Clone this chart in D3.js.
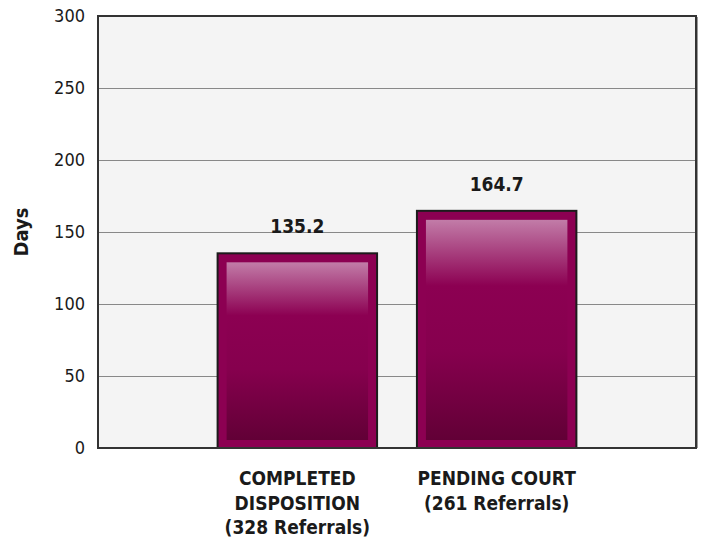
<!DOCTYPE html>
<html>
<head>
  <meta charset="utf-8">
  <title>Days</title>
  <script src="https://cdn.jsdelivr.net/npm/d3@7"></script>
  <style>
    body { margin: 0; background: #fff; }
    svg text { font-family: "DejaVu Sans Condensed", "DejaVu Sans", sans-serif; fill: #1a1a1a; }
  </style>
</head>
<body>
<svg width="703" height="542"></svg>
<script>
  // data
  const categories = [
    ['COMPLETED', 'DISPOSITION', '(328 Referrals)'],
    ['PENDING COURT', '(261 Referrals)']
  ];
  const values = [135.2, 164.7];
  const yTicks = [0, 50, 100, 150, 200, 250, 300];
  const yLabel = 'Days';

  const svg = d3.select('svg');
  const plotL = 98, plotR = 696, plotT = 16, plotB = 448;

  const y = d3.scaleLinear().domain([0, 300]).range([plotB, plotT]);
  // one empty slot either side, bars sit on 1 and 2
  const x = d3.scaleLinear().domain([0, categories.length + 1]).range([plotL, plotR]);
  const barW = (x(1) - x(0)) * 0.8;

  const defs = svg.append('defs');
  const grad = defs.append('linearGradient')
      .attr('id', 'shine').attr('x1', 0).attr('y1', 0).attr('x2', 0).attr('y2', 1);
  grad.append('stop').attr('offset', '0%').attr('stop-color', '#c27ca8');
  grad.append('stop').attr('offset', '30%').attr('stop-color', '#8c0052');
  grad.append('stop').attr('offset', '60%').attr('stop-color', '#86004e');
  grad.append('stop').attr('offset', '100%').attr('stop-color', '#620036');

  // plot background
  svg.append('rect')
      .attr('x', plotL).attr('y', plotT)
      .attr('width', plotR - plotL).attr('height', plotB - plotT)
      .attr('fill', '#f4f4f4');

  // gridlines
  svg.append('g')
      .attr('transform', `translate(${plotL},0)`)
      .call(d3.axisLeft(y).tickValues(yTicks).tickSize(-(plotR - plotL)).tickFormat(''))
      .call(g => g.select('.domain').remove())
      .call(g => g.selectAll('line').attr('stroke', '#888'));

  // tick labels
  svg.append('g')
      .attr('transform', `translate(${plotL},0)`)
      .call(d3.axisLeft(y).tickValues(yTicks).tickSize(0).tickPadding(13))
      .call(g => g.select('.domain').remove())
      .call(g => g.selectAll('text').style('font-size', '18px').attr('fill', '#1a1a1a'));

  const bars = svg.append('g').selectAll('g')
    .data(values)
    .join('g');

  bars.append('rect')
      .attr('x', (d, i) => x(i + 1) - barW / 2)
      .attr('y', d => y(d))
      .attr('width', barW)
      .attr('height', d => y(0) - y(d))
      .attr('fill', '#8c0052')
      .attr('stroke', '#1c1c1c')
      .attr('stroke-width', 2);

  bars.append('rect')
      .attr('x', (d, i) => x(i + 1) - barW / 2 + 9)
      .attr('y', d => y(d) + 9)
      .attr('width', barW - 18)
      .attr('height', d => y(0) - y(d) - 17)
      .attr('fill', 'url(#shine)');

  bars.append('text')
      .attr('x', (d, i) => x(i + 1))
      .attr('y', d => y(d) - 20)
      .attr('text-anchor', 'middle')
      .style('font-size', '19px')
      .style('font-weight', 'bold')
      .text(d => d.toFixed(1));

  // frame, with a soft shadow on the right
  svg.append('line')
      .attr('x1', plotR + 1.5).attr('x2', plotR + 1.5)
      .attr('y1', plotT + 1).attr('y2', plotB)
      .attr('stroke', '#9a9a9a');
  svg.append('rect')
      .attr('x', plotL).attr('y', plotT)
      .attr('width', plotR - plotL).attr('height', plotB - plotT)
      .attr('fill', 'none')
      .attr('stroke', '#333')
      .attr('stroke-width', 2);

  // category labels
  const cats = svg.append('g').selectAll('text')
    .data(categories)
    .join('text')
      .attr('x', (d, i) => x(i + 1))
      .attr('y', 485)
      .attr('text-anchor', 'middle')
      .style('font-size', '19px')
      .style('font-weight', 'bold');
  cats.selectAll('tspan')
    .data(d => d)
    .join('tspan')
      .attr('x', function () { return d3.select(this.parentNode).attr('x'); })
      .attr('dy', (d, i) => i ? 24.5 : 0)
      .text(d => d);

  svg.append('text')
      .attr('transform', `translate(28,${(plotT + plotB) / 2}) rotate(-90)`)
      .attr('text-anchor', 'middle')
      .style('font-size', '20px')
      .style('font-weight', 'bold')
      .text(yLabel);
</script>
</body>
</html>
